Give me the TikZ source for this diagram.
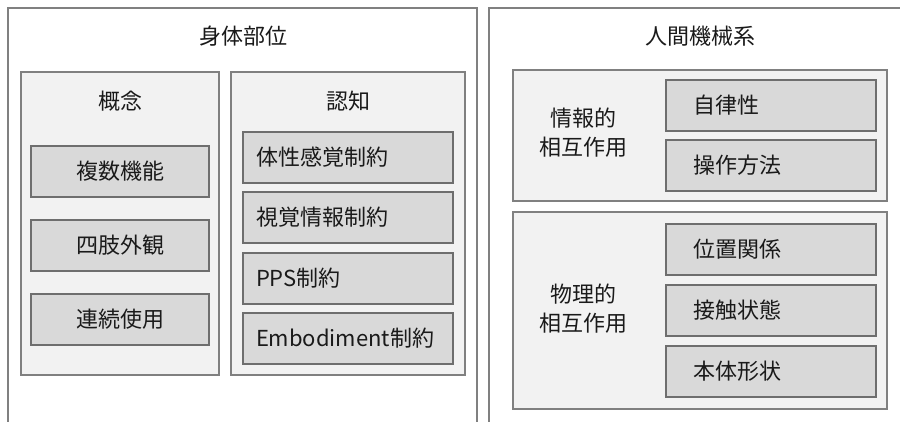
\documentclass[tikz,border=0pt]{standalone}
\usepackage{fontspec}
\setmainfont{Noto Sans CJK JP}
\definecolor{bordergray}{HTML}{808080}
\definecolor{itemborder}{HTML}{6E6E6E}
\definecolor{groupfill}{HTML}{F2F2F2}
\definecolor{itemfill}{HTML}{D9D9D9}
\definecolor{textgray}{HTML}{1A1A1A}
\begin{document}
\begin{tikzpicture}[x=1pt,y=-1pt,
  every node/.style={font=\fontsize{22}{29}\selectfont, text=textgray},
  outerbox/.style={draw=bordergray, line width=1.2pt, fill=white},
  groupbox/.style={draw=bordergray, line width=1.2pt, fill=groupfill},
  itembox/.style={draw=itemborder, line width=1.2pt, fill=itemfill, rectangle, inner sep=0pt},
  citem/.style={itembox, minimum width=178pt, minimum height=51pt},
  litem/.style={itembox, minimum width=210pt, minimum height=51pt, text width=184pt, inner xsep=13pt, align=left},
  ritem/.style={itembox, minimum width=210pt, minimum height=51pt, text width=156pt, inner xsep=27pt, align=left},
  title/.style={inner sep=0pt}
]
\useasboundingbox (0,0) rectangle (900,421);
\clip (0,0) rectangle (900,421);
% outer boxes
\draw[outerbox] (8,8) rectangle (477,440);
\draw[outerbox] (489,8) rectangle (920,440);
\node[title] (t1) at (243,36) {身体部位};
\node[title] (t2) at (700,36) {人間機械系};
% left groups
\draw[groupbox] (21,72) rectangle (219,375);
\node[title] (g1) at (120,101) {概念};
\node[citem] (a1) at (120,171.5) {複数機能};
\node[citem] (a2) at (120,245.5) {四肢外観};
\node[citem] (a3) at (120,319.5) {連続使用};
\draw[groupbox] (231,72) rectangle (465,375);
\node[title] (g2) at (348,101) {認知};
\node[litem] (b1) at (348,157.5) {体性感覚制約};
\node[litem] (b2) at (348,217.5) {視覚情報制約};
\node[litem] (b3) at (348,278.5) {PPS制約};
\node[litem] (b4) at (348,338.5) {Embodiment制約};
% right groups
\draw[groupbox] (513,70) rectangle (887,201);
\node[title, align=center] (g3) at (583,133) {情報的\\相互作用};
\node[ritem] (c1) at (771,105.5) {自律性};
\node[ritem] (c2) at (771,165.5) {操作方法};
\draw[groupbox] (513,212) rectangle (887,409);
\node[title, align=center] (g4) at (583,309) {物理的\\相互作用};
\node[ritem] (d1) at (771,249.5) {位置関係};
\node[ritem] (d2) at (771,310.5) {接触状態};
\node[ritem] (d3) at (771,371.5) {本体形状};
\end{tikzpicture}
\end{document}
